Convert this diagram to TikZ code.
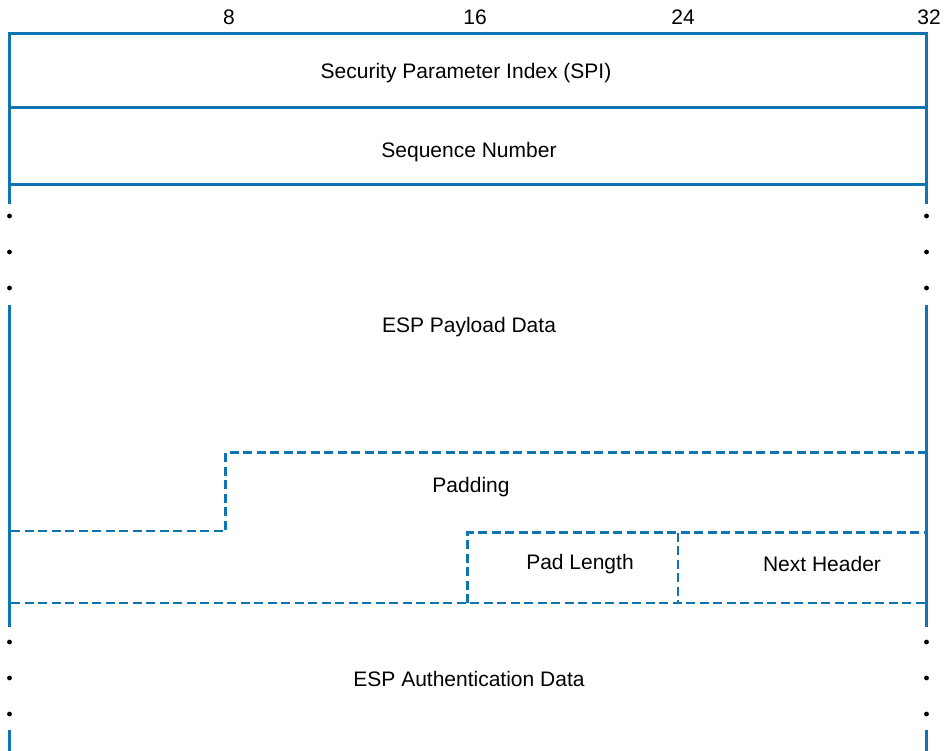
\documentclass[tikz,border=0pt]{standalone}
\usepackage{fontspec}
\setmainfont{Liberation Sans}
\definecolor{espblue}{RGB}{16,116,178}
\begin{document}
\begin{tikzpicture}[x=1pt,y=-1pt,
  rule/.style={draw=espblue,line width=2.2pt},
  dashrule/.style={draw=espblue,line width=2.2pt,dash pattern=on 9pt off 4.5pt},
  lbl/.style={font=\fontsize{21}{24}\selectfont,inner sep=0pt,anchor=center},
  gap/.style={circle,fill=black,inner sep=0pt,minimum size=4.8pt}]
\useasboundingbox (0,0) rectangle (944,751);

% bit positions above the top edge
\node[lbl] (b8)  at (229,17) {8};
\node[lbl] (b16) at (475,17) {16};
\node[lbl] (b24) at (683,17) {24};
\node[lbl] (b32) at (929,17) {32};

% fixed header words
\draw[rule] (9.5,204) -- (9.5,33.5) -- (926.5,33.5) -- (926.5,204);
\draw[rule] (9.5,107.5) -- (926.5,107.5);
\draw[rule] (9.5,184.5) -- (926.5,184.5);
\node[lbl] (spi) at (466,73) {Security Parameter Index (SPI)};
\node[lbl] (seq) at (469,152.5) {Sequence Number};

% elided rows of the payload
\foreach \yy [count=\i] in {216,252,288}{
  \node[gap] (pl\i) at (9.5,\yy) {};
  \node[gap] (pr\i) at (926.5,\yy) {};
}
\draw[rule] (9.5,305) -- (9.5,627);
\draw[rule] (926.5,305) -- (926.5,627);
\node[lbl] (payload) at (469,327) {ESP Payload Data};

% variable-length trailer
\draw[dashrule] (11,531) -- (225.5,531) -- (225.5,452.5) -- (925,452.5);
\node[lbl] (pad) at (471,487) {Padding};
\draw[dashrule] (467.5,603) -- (467.5,532.5) -- (925,532.5);
\draw[dashrule] (678,532.5) -- (678,603);
\draw[dashrule] (11,603) -- (925,603);
\node[lbl] (padlen) at (580,564) {Pad Length};
\node[lbl] (nexthdr) at (822,564) {Next Header};

% elided rows of the authentication data
\foreach \yy [count=\i] in {642,678,714}{
  \node[gap] (al\i) at (9.5,\yy) {};
  \node[gap] (ar\i) at (926.5,\yy) {};
}
\draw[rule] (9.5,730) -- (9.5,751);
\draw[rule] (926.5,730) -- (926.5,751);
\node[lbl] (auth) at (469,679) {ESP Authentication Data};
\end{tikzpicture}
\end{document}
